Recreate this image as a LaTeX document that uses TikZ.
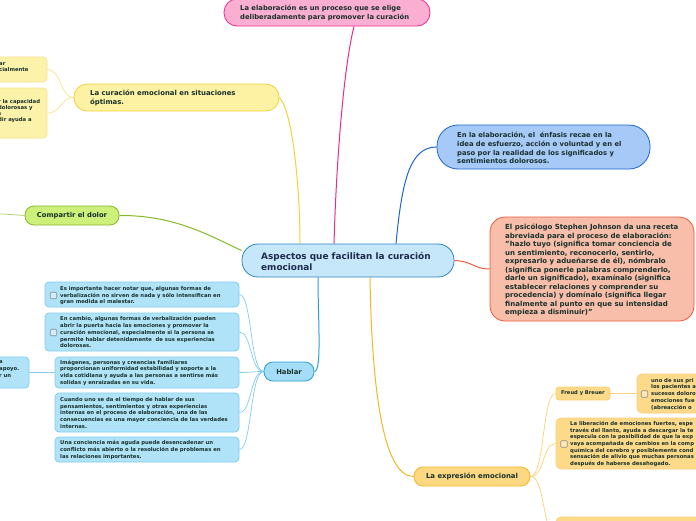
\documentclass[tikz,border=0pt]{standalone}
\usepackage{fontspec}
\setmainfont{DejaVu Sans}
\usetikzlibrary{backgrounds}
\newcommand{\myfs}[2]{\fontsize{#1}{#2}\selectfont\bfseries}
\definecolor{txt}{HTML}{17302A}
\definecolor{navy}{HTML}{1C2A4C}
\definecolor{pinkF}{HTML}{FAAED2}\definecolor{pinkD}{HTML}{EC2A8C}
\definecolor{blueF}{HTML}{A6C9F8}\definecolor{blueD}{HTML}{1F66CF}
\definecolor{salF}{HTML}{F8BEAA}\definecolor{salD}{HTML}{EF5A3A}
\definecolor{cenF}{HTML}{C6E7FA}\definecolor{cenD}{HTML}{2C85C6}
\definecolor{yelF}{HTML}{FDF1A3}\definecolor{yelD}{HTML}{F0D23A}
\definecolor{yelF2}{HTML}{FDF2AA}\definecolor{yelD2}{HTML}{F8E38A}
\definecolor{grnF}{HTML}{CCF07A}\definecolor{grnD}{HTML}{86B828}
\definecolor{habF}{HTML}{A5DDF6}\definecolor{habD}{HTML}{2C9ED6}
\definecolor{sbF}{HTML}{B0E3F8}\definecolor{sbD}{HTML}{80CDEF}
\definecolor{exF}{HTML}{FDD882}\definecolor{exD}{HTML}{F3B726}
\definecolor{oyF}{HTML}{FDD98A}\definecolor{oyD}{HTML}{FBD17A}
\tikzset{
  box/.style={draw, line width=0.8pt, inner sep=0pt},
  tx/.style={anchor=west, inner sep=0pt, align=left, text=txt},
  small/.style={tx, font=\myfs{5.3}{6.7}},
  chk/.style={draw=black!45, fill=white!40!sbF, line width=0.6pt, rounded corners=1pt, minimum size=6.5pt, inner sep=0pt},
  conn/.style={line width=1pt},
  sub/.style={line width=0.7pt},
}
\begin{document}
\begin{tikzpicture}[x=1pt,y=-1pt]
\clip (0,0) rectangle (696,520);

% ---------- main nodes
\node[box, draw=pinkD, fill=pinkF, rounded corners=13pt, minimum width=206pt, minimum height=27pt] (pink) at (327,12.5) {};
\node[tx, font=\myfs{6.8}{9}] (pinkT) at (240,12.5) {La elaboración es un proceso que se elige\\deliberadamente para promover la curación};

\node[box, draw=blueD, fill=blueF, rounded corners=21pt, minimum width=213pt, minimum height=44pt] (bluer) at (543.5,147) {};
\node[tx, font=\myfs{6.8}{8.7}] (bluerT) at (457,148) {En la elaboración, el\ \ énfasis recae en la\\idea de esfuerzo, acción o voluntad y en el\\paso por la realidad de los significados y\\sentimientos dolorosos.};

\node[box, draw=salD, fill=salF, rounded corners=15pt, minimum width=204pt, minimum height=104pt] (sal) at (592,269) {};
\node[tx, font=\myfs{7.0}{8.5}] (salT) at (505,270.2) {El psicólogo Stephen Johnson da una receta\\abreviada para el proceso de elaboración:\\"hazlo tuyo (significa tomar conciencia de\\un sentimiento, reconocerlo, sentirlo,\\expresarlo y adueñarse de él), nómbralo\\(significa ponerle palabras comprenderlo,\\darle un significado), examínalo (significa\\establecer relaciones y comprender su\\procedencia) y domínalo (significa llegar\\finalmente al punto en que su intensidad\\empieza a disminuir)"};

\node[box, draw=cenD, fill=cenF, rounded corners=16pt, minimum width=212pt, minimum height=33pt] (cen) at (348,260.5) {};
\node[tx, text=navy, font=\myfs{8.9}{11.5}] (cenT) at (261,261.3) {Aspectos que facilitan la curación\\emocional};

\node[box, draw=yelD, fill=yelF, rounded corners=13pt, minimum width=205pt, minimum height=27pt] (cur) at (176.5,97.5) {};
\node[tx, font=\myfs{6.9}{9}] (curT) at (90,97.8) {La curación emocional en situaciones\\óptimas.};

\node[box, draw=yelD2, fill=yelF2, rounded corners=4pt, minimum width=197pt, minimum height=25pt] (ly1) at (-51.5,69.5) {};
\node[small, font=\myfs{5.3}{6.3}] (ly1T) at (-1,67) {ar\\cialmente};
\node[box, draw=yelD2, fill=yelF2, rounded corners=4pt, minimum width=197pt, minimum height=50pt] (ly2) at (-51.5,113) {};
\node[small, font=\myfs{5.3}{6.1}] (ly2T) at (-2,113.8) {r la capacidad\\dolorosas y\\s\\dir ayuda a\\.};

\node[box, draw=grnD, fill=grnF, rounded corners=9pt, minimum width=94pt, minimum height=19pt, text=txt, font=\myfs{6.8}{8}] (comp) at (72,215.5) {Compartir el dolor};
\coordinate (compL) at (-5,213.5);

\node[box, draw=habD, fill=habF, rounded corners=9pt, minimum width=50pt, minimum height=19pt, text=txt, font=\myfs{6.8}{8}] (hab) at (289,371.5) {Hablar};

\node[box, draw=exD, fill=exF, rounded corners=9pt, minimum width=116pt, minimum height=19pt, text=txt, font=\myfs{6.9}{8}] (expr) at (472,476.5) {La expresión emocional};

% ---------- Hablar children
\node[box, draw=sbD, fill=sbF, rounded corners=4pt, minimum width=194pt, minimum height=25pt] (b1) at (142,294.5) {};
\node[chk] (c1) at (53.5,295.5) {};
\node[small] (b1T) at (60,295.7) {Es importante hacer notar que, algunas formas de\\verbalización no sirven de nada y sólo intensifican en\\gran medida el malestar.};

\node[box, draw=sbD, fill=sbF, rounded corners=4pt, minimum width=194pt, minimum height=38pt] (b2) at (142,332) {};
\node[chk] (c2) at (53.5,332.5) {};
\node[small] (b2T) at (60,332.3) {En cambio, algunas formas de verbalización pueden\\abrir la puerta hacia las emociones y promover la\\curación emocional, especialmente si la persona se\\permite hablar detenidamente\ \ de sus experiencias\\dolorosas.};

\node[box, draw=sbD, fill=sbF, rounded corners=4pt, minimum width=184pt, minimum height=31pt] (b3) at (147,372.5) {};
\node[small] (b3T) at (60,372.7) {Imágenes, personas y creencias familiares\\proporcionan uniformidad estabilidad y soporte a la\\vida cotidiana y ayuda a las personas a sentirse más\\solidas y enraizadas en su vida.};

\node[box, draw=sbD, fill=sbF, rounded corners=4pt, minimum width=184pt, minimum height=39pt] (b4) at (147,412.5) {};
\node[small] (b4T) at (60,413) {Cuando uno se da el tiempo de hablar de sus\\pensamientos, sentimientos y otras experiencias\\internas en el proceso de elaboración, una de las\\consecuencias es una mayor conciencia de las verdades\\internas.};

\node[box, draw=sbD, fill=sbF, rounded corners=4pt, minimum width=184pt, minimum height=25pt] (b5) at (147,449.5) {};
\node[small] (b5T) at (60,450) {Una conciencia más aguda puede desencadenar un\\conflicto más abierto o la resolución de problemas en\\las relaciones importantes.};

\node[box, draw=sbD, fill=sbF, rounded corners=4pt, minimum width=179pt, minimum height=31pt] (lb) at (-60.5,372.5) {};
\node[small] (lbT) at (-1,369.2) {a\\apoyo.\\r un};

% ---------- Expresión children
\node[box, draw=oyD, fill=oyF, rounded corners=3pt, minimum width=54pt, minimum height=13pt, text=txt, font=\myfs{5.2}{6}] (freud) at (583,393.5) {Freud y Breuer};

\node[box, draw=oyD, fill=oyF, rounded corners=5pt, minimum width=123pt, minimum height=39pt] (r1) at (698.5,393.5) {};
\node[chk, fill=white!40!oyF] (c3) at (644.5,394) {};
\node[small] (r1T) at (651,394) {uno de sus pri\\los pacientes a\\sucesos doloro\\emociones fue\\(abreacción o};

\node[box, draw=oyD, fill=oyF, rounded corners=5pt, minimum width=224pt, minimum height=51pt] (r2) at (668,443.5) {};
\node[chk, fill=white!40!oyF] (c4) at (564,444) {};
\node[small] (r2T) at (570,444) {La liberación de emociones fuertes, espe\\través del llanto, ayuda a descargar la te\\especula con la posibilidad de que la exp\\vaya acompañada de cambios en la comp\\química del cerebro y posiblemente cond\\sensación de alivio que muchas personas\\después de haberse desahogado.};

\node[box, draw=oyD, fill=oyF, rounded corners=5pt, minimum width=224pt, minimum height=40pt] (r3) at (668,537) {};

% ---------- connectors
\begin{scope}[on background layer]
\fill[white] (-10,-10) rectangle (710,530);
\draw[conn, draw=yelD] (cur.east) .. controls (293,112) and (300,190) .. ([xshift=-48pt]cen.north);
\draw[conn, draw=pinkD] ([xshift=-14pt]cen.north) .. controls (336,170) and (343,70) .. ([xshift=27pt]pink.south);
\draw[conn, draw=blueD] ([xshift=48pt]cen.north) .. controls (402,180) and (410,147) .. (bluer.west);
\draw[conn, draw=grnD] (comp.east) .. controls (175,215) and (210,236) .. ([yshift=10pt]cen.west);
\draw[conn, draw=salD] (cen.east) .. controls (472,261) and (474,269) .. (sal.west);
\draw[conn, draw=exD] ([xshift=22pt]cen.south) .. controls (372,400) and (385,476.5) .. (expr.west);
\draw[conn, draw=habD] (hab.east) .. controls (322,371.5) and (318,320) .. ([xshift=-30pt]cen.south);
\draw[sub, draw=yelD2] (cur.west) .. controls (60,97.5) and (62,69.5) .. (47,69.5);
\draw[sub, draw=yelD2] (cur.west) .. controls (60,97.5) and (62,113) .. (47,113);
\draw[sub, draw=grnD!70] (compL) -- (comp.west);
\foreach \b in {b1,b2,b3,b4,b5}{
  \draw[sub, draw=sbD] (hab.west) .. controls (250,371.5) and (252,0|-\b.east) .. (\b.east);
}
\draw[sub, draw=sbD] (lb.east) -- (b3.west);
\draw[sub, draw=oyD] (expr.east) .. controls (545,476.5) and (542,393.5) .. (freud.west);
\draw[sub, draw=oyD] (expr.east) .. controls (545,476.5) and (542,443.5) .. (r2.west);
\draw[sub, draw=oyD] (expr.east) .. controls (545,476.5) and (542,530) .. (r3.west);
\draw[sub, draw=oyD] (freud.east) -- (r1.west);
\end{scope}
\end{tikzpicture}
\end{document}
